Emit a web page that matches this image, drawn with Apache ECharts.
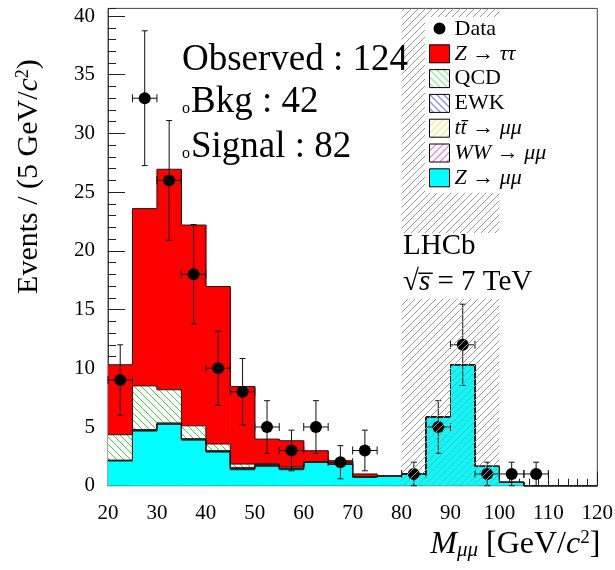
<!DOCTYPE html>
<html>
<head>
<meta charset="utf-8">
<script src="https://cdn.jsdelivr.net/npm/echarts@6/dist/echarts.min.js"></script>
<style>html,body{margin:0;padding:0;background:#fff}#chart{width:615px;height:570px}</style>
</head>
<body>
<div id="chart"></div>
<script>
// Di-muon invariant mass, 5 GeV/c^2 bins (lower edges)
const binLow = [20, 25, 30, 35, 40, 45, 50, 55, 60, 65, 70, 75, 80, 85, 90, 95, 100, 105, 110, 115];
const binWidth = 5;

// Expected contributions per bin, stacked bottom to top
const zMuMu   = [2.13, 4.68, 5.25, 3.91, 2.89, 1.36, 1.65, 1.36, 2.00, 1.82, 0.74, 0.80, 1.00, 5.85, 10.30, 1.65, 0.29, 0, 0, 0];
const wwMuMu  = [0, 0, 0, 0, 0, 0.05, 0.05, 0.05, 0, 0, 0, 0, 0, 0, 0, 0, 0, 0, 0, 0];
const ttMuMu  = [0, 0, 0, 0, 0, 0.05, 0.05, 0.05, 0, 0, 0, 0, 0, 0, 0, 0, 0, 0, 0, 0];
const ewk     = [0.05, 0.10, 0.10, 0.10, 0.10, 0.10, 0.05, 0.05, 0, 0, 0, 0, 0, 0, 0, 0, 0, 0, 0, 0];
const qcd     = [2.16, 3.72, 2.82, 1.09, 0.56, 0.28, 0.07, 0.08, 0, 0, 0, 0, 0, 0, 0, 0, 0, 0, 0, 0];
const zTauTau = [5.96, 15.10, 18.78, 17.10, 13.41, 6.61, 2.10, 2.24, 0.98, 0.31, 0.26, 0.05, 0, 0, 0, 0, 0, 0, 0, 0];

// Observed candidates: bin centre, count, statistical error
const dataMass   = [22.5, 27.5, 32.5, 37.5, 42.5, 47.5, 52.5, 57.5, 62.5, 67.5, 72.5, 82.5, 87.5, 92.5, 97.5, 102.5, 107.5];
const dataCounts = [9, 33, 26, 18, 10, 8, 5, 3, 5, 2, 3, 1, 5, 12, 1, 1, 1];
const dataErrors = [3.00, 5.74, 5.10, 4.24, 3.16, 2.83, 2.24, 1.73, 2.24, 1.41, 1.73, 1.00, 2.24, 3.46, 1.00, 1.00, 1.00];

// Z peak window removed from the selection
const excludedRange = [80, 100];

// Axis ranges
const xRange = [20, 120];
const yRange = [0, 40.65];

// Yields quoted on the plot
const observedYield = 124;
const bkgYield = 42;
const signalYield = 82;

const SERIF = 'Liberation Serif';

function hatch(color, dir, size, bg) {
  const c = document.createElement('canvas');
  c.width = size; c.height = size;
  const g = c.getContext('2d');
  if (bg) { g.fillStyle = bg; g.fillRect(0, 0, size, size); }
  g.strokeStyle = color; g.lineWidth = 1;
  g.beginPath();
  for (const k of [-size, 0, size]) {
    if (dir === '\\') { g.moveTo(k, 0); g.lineTo(k + size, size); }
    else { g.moveTo(k, size); g.lineTo(k + size, 0); }
  }
  g.stroke();
  return { image: c, repeat: 'repeat' };
}

const components = [
  { name: 'Z → μμ',  values: zMuMu,   fill: '#00ffff' },
  { name: 'WW → μμ', values: wwMuMu,  fill: hatch('#ee22ee', '/', 7, '#fff') },
  { name: 'tt̄ → μμ', values: ttMuMu,  fill: hatch('#e8e820', '/', 7, '#fff') },
  { name: 'EWK',     values: ewk,     fill: hatch('#2222ee', '\\', 7, '#fff') },
  { name: 'QCD',     values: qcd,     fill: hatch('#33dd33', '\\', 7, '#fff') },
  { name: 'Z → ττ',  values: zTauTau, fill: '#ff0000' }
];

const legendLabels = {
  'Data': 'Data',
  'Z → ττ': '{i|Z} → {i|ττ}',
  'QCD': 'QCD',
  'EWK': 'EWK',
  'tt̄ → μμ': '{i|tt̄} → {i|μμ}',
  'WW → μμ': '{i|WW} → {i|μμ}',
  'Z → μμ': '{i|Z} → {i|μμ}'
};

// Build the stacked rows: [lo, hi, base, top, previous bin top]
const cumulative = binLow.map(() => 0);
const stackSeries = components.map(comp => {
  const rows = binLow.map((lo, i) => {
    const base = cumulative[i];
    const top = base + comp.values[i];
    return [lo, lo + binWidth, base, top];
  });
  rows.forEach((r, i) => { cumulative[i] = r[3]; r.push(i > 0 ? rows[i - 1][3] : 0); });
  return {
    name: comp.name,
    type: 'custom',
    z: 2,
    silent: true,
    itemStyle: { color: comp.fill },
    data: rows,
    encode: { x: [0, 1], y: [2, 3] },
    renderItem(params, api) {
      const lo = api.value(0), hi = api.value(1), base = api.value(2), top = api.value(3), prev = api.value(4);
      const pTL = api.coord([lo, top]);
      const pBR = api.coord([hi, base]);
      const pPrev = api.coord([lo, prev]);
      const children = [];
      if (top > base) {
        children.push({
          type: 'rect',
          shape: { x: pTL[0], y: pTL[1], width: pBR[0] - pTL[0] + 0.6, height: pBR[1] - pTL[1] },
          style: { fill: comp.fill }
        });
      }
      const st = { stroke: '#1a1a1a', lineWidth: 1 };
      children.push({ type: 'line', shape: { x1: pTL[0], y1: pTL[1], x2: pBR[0], y2: pTL[1] }, style: st, z2: 5 });
      if (lo > xRange[0]) {
        children.push({ type: 'line', shape: { x1: pTL[0], y1: pPrev[1], x2: pTL[0], y2: pTL[1] }, style: st, z2: 5 });
      }
      return { type: 'group', children };
    }
  };
});

const errorSeries = {
  type: 'custom',
  name: 'errors',
  z: 3,
  silent: true,
  data: dataMass.map((m, i) => [m, dataCounts[i], dataErrors[i], binWidth / 2]),
  encode: { x: 0, y: 1 },
  renderItem(params, api) {
    const x = api.value(0), y = api.value(1), e = api.value(2), hw = api.value(3);
    const c = api.coord([x, y]);
    const top = api.coord([x, y + e]);
    const bot = api.coord([x, Math.max(0, y - e)]);
    const l = api.coord([x - hw, y]);
    const r = api.coord([x + hw, y]);
    const st = { stroke: '#111', lineWidth: 1 };
    const ln = (x1, y1, x2, y2) => ({ type: 'line', shape: { x1, y1, x2, y2 }, style: st });
    return {
      type: 'group',
      children: [
        ln(c[0], top[1], c[0], bot[1]),
        ln(c[0] - 3, top[1], c[0] + 3, top[1]),
        ln(c[0] - 3, bot[1], c[0] + 3, bot[1]),
        ln(l[0], c[1], r[0], c[1]),
        ln(l[0], c[1] - 4, l[0], c[1] + 4),
        ln(r[0], c[1] - 4, r[0], c[1] + 4)
      ]
    };
  }
};

const dataSeries = {
  name: 'Data',
  type: 'scatter',
  z: 3,
  silent: true,
  symbol: 'circle',
  symbolSize: 12,
  itemStyle: { color: '#000', opacity: 1 },
  data: dataMass.map((m, i) => [m, dataCounts[i]])
};

const bandPattern = hatch('#9a9a9a', '/', 7, null);
const bandSeries = {
  type: 'custom',
  name: 'excluded',
  z: 4,
  silent: true,
  data: [[excludedRange[0], excludedRange[1], 0]],
  encode: { x: [0, 1], y: 2 },
  renderItem(params, api) {
    const p0 = api.coord([api.value(0), yRange[1]]);
    const p1 = api.coord([api.value(1), yRange[0]]);
    return {
      type: 'rect',
      shape: { x: p0[0], y: p0[1], width: p1[0] - p0[0], height: p1[1] - p0[1] },
      style: { fill: bandPattern }
    };
  }
};

const legendData = [{ name: 'Data', icon: 'path://M0,0M20,18M10,2.5A6,6 0 1,0 10.01,2.5Z', itemStyle: { color: '#000', borderWidth: 0 } }]
  .concat(components.slice().reverse().map(c => ({
    name: c.name, icon: 'rect',
    itemStyle: { color: c.fill, borderColor: '#000', borderWidth: 1 }
  })));

const tickFont = { color: '#000', fontFamily: SERIF, fontSize: 21 };
const yTitleRich = {
  i: { fontFamily: SERIF, fontSize: 30, fontStyle: 'italic', color: '#000' },
  s: { fontFamily: SERIF, fontSize: 18, verticalAlign: 'top', color: '#000' }
};
const xTitleRich = {
  i: { fontFamily: SERIF, fontSize: 32, fontStyle: 'italic', color: '#000' },
  s: { fontFamily: SERIF, fontSize: 19, verticalAlign: 'top', color: '#000' },
  sub: { fontFamily: SERIF, fontSize: 21, fontStyle: 'italic', verticalAlign: 'bottom', color: '#000' }
};

const chart = echarts.init(document.getElementById('chart'), null, { renderer: 'canvas' });
chart.setOption({
  animation: false,
  backgroundColor: '#fff',
  grid: {
    left: 108, right: 17.7, top: 8.4, bottom: 84.3,
    containLabel: false, outerBoundsMode: 'none',
    show: true, borderColor: '#444', borderWidth: 1, backgroundColor: 'transparent'
  },
  legend: {
    orient: 'vertical', left: 425, top: 17, z: 6,
    backgroundColor: '#fff', padding: [1, 14, 4, 4],
    itemWidth: 20, itemHeight: 18, itemGap: 2.8,
    selectedMode: false,
    textStyle: {
      fontFamily: SERIF, fontSize: 22, lineHeight: 18, color: '#000',
      rich: { i: { fontFamily: SERIF, fontSize: 22, lineHeight: 18, fontStyle: 'italic', color: '#000' } }
    },
    formatter: name => legendLabels[name],
    data: legendData
  },
  xAxis: {
    type: 'value', min: xRange[0], max: xRange[1], interval: 10,
    axisLine: { show: true, onZero: false, lineStyle: { color: '#444', width: 1 } },
    axisTick: { show: true, inside: true, length: 14, lineStyle: { color: '#222' } },
    minorTick: { show: true, splitNumber: 5, length: 7, lineStyle: { color: '#222' } },
    splitLine: { show: false },
    axisLabel: Object.assign({ margin: 17 }, tickFont),
    name: '{i|M}{sub|μμ} [GeV/{i|c}{s|2}]',
    nameLocation: 'end', nameGap: 3, nameMoveOverlap: false,
    nameTextStyle: { fontFamily: SERIF, fontSize: 32, color: '#000', align: 'right', verticalAlign: 'top', padding: [43, 0, 0, 0], rich: xTitleRich }
  },
  yAxis: [
    {
      type: 'value', min: yRange[0], max: yRange[1], interval: 5, position: 'left',
      axisLine: { show: true, onZero: false, lineStyle: { color: '#444', width: 1 } },
      axisTick: { show: true, inside: true, length: 17, lineStyle: { color: '#222' } },
      minorTick: { show: false },
      splitLine: { show: false },
      axisLabel: Object.assign({ margin: 13, showMaxLabel: false }, tickFont),
      name: 'Events / (5 GeV/{i|c}{s|2})',
      nameLocation: 'middle', nameGap: 64, nameRotate: 90, nameMoveOverlap: false,
      nameTextStyle: { fontFamily: SERIF, fontSize: 30, color: '#000', padding: [0, 0, 0, 141], rich: yTitleRich }
    },
    {
      type: 'value', min: yRange[0], max: yRange[1], interval: 1, position: 'left',
      axisLine: { show: false, onZero: false },
      axisTick: { show: true, inside: true, length: 8, lineStyle: { color: '#222' } },
      axisLabel: { show: false },
      splitLine: { show: false }
    }
  ],
  graphic: [
    { type: 'text', x: 182, y: 60, z: 10, silent: true,
      style: { text: 'Observed : ' + observedYield, fontFamily: SERIF, fontSize: 37, fill: '#000', verticalAlign: 'middle' } },
    { type: 'text', x: 182, y: 102, z: 10, silent: true,
      style: { text: '{c|o}{t|Bkg : ' + bkgYield + '}', verticalAlign: 'middle', fill: '#000',
        rich: { c: { fontFamily: SERIF, fontSize: 16, verticalAlign: 'bottom', padding: [0, 1, 4, 0], fill: '#000' },
                t: { fontFamily: SERIF, fontSize: 37, fill: '#000' } } } },
    { type: 'text', x: 182, y: 147, z: 10, silent: true,
      style: { text: '{c|o}{t|Signal : ' + signalYield + '}', verticalAlign: 'middle', fill: '#000',
        rich: { c: { fontFamily: SERIF, fontSize: 16, verticalAlign: 'bottom', padding: [0, 1, 4, 0], fill: '#000' },
                t: { fontFamily: SERIF, fontSize: 37, fill: '#000' } } } },
    { type: 'text', x: 400, y: 233, z: 10, silent: true,
      style: { text: 'LHCb', fontFamily: SERIF, fontSize: 29, lineHeight: 26, fill: '#000', verticalAlign: 'top',
        backgroundColor: '#fff', padding: [0, 60, 6, 3] } },
    { type: 'text', x: 400, y: 265, z: 10, silent: true,
      style: { text: '√{s|s̅} = 7 TeV', fontFamily: SERIF, fontSize: 29, lineHeight: 30, fill: '#000', verticalAlign: 'top',
        backgroundColor: '#fff', padding: [2, 10, 2, 3],
        rich: { s: { fontFamily: SERIF, fontSize: 29, fontStyle: 'italic', fill: '#000' } } } }
  ],
  series: stackSeries.concat([dataSeries, errorSeries, bandSeries])
});
</script>
</body>
</html>
